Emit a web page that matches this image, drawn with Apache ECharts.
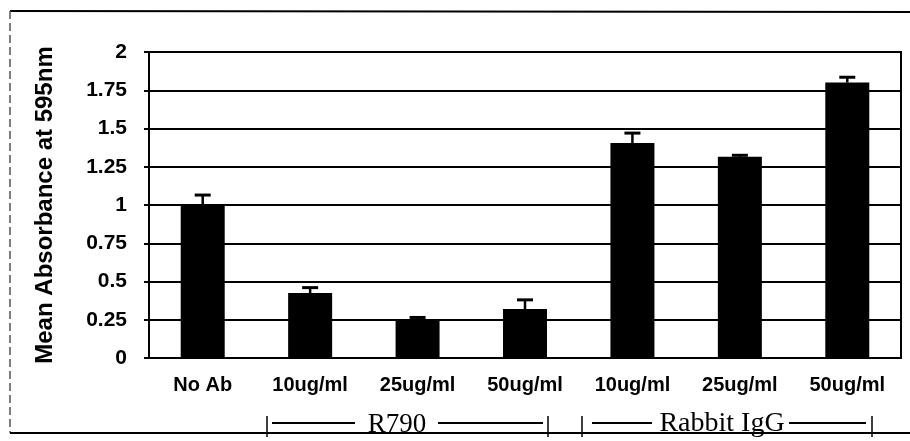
<!DOCTYPE html>
<html>
<head>
<meta charset="utf-8">
<script src="https://cdn.jsdelivr.net/npm/echarts@6/dist/echarts.min.js"></script>
<style>
  html, body { margin: 0; padding: 0; background: #fff; }
  #chart { width: 910px; height: 441px; }
</style>
</head>
<body>
<div id="chart"></div>
<script>
// 数据
var categories = ['No Ab', '10ug/ml', '25ug/ml', '50ug/ml', '10ug/ml', '25ug/ml', '50ug/ml'];
var absorbance = [1.00, 0.425, 0.255, 0.32, 1.405, 1.315, 1.80];
var errors = [0.065, 0.035, 0.01, 0.06, 0.065, 0.01, 0.035];
var yTicks = [0, 0.25, 0.5, 0.75, 1, 1.25, 1.5, 1.75, 2];

(function() {
    var myChart = echarts.init(document.getElementById('chart'));

    var errData = absorbance.map(function(v, i) {
        return [i, v, v + errors[i]];
    });

    var option = {
        backgroundColor: '#fff',
        animation: false,
        grid: {
            left: 149,
            right: 9,
            top: 52,
            bottom: 83,
            show: true,
            borderColor: '#000',
            borderWidth: 2
        },
        xAxis: {
            type: 'category',
            data: categories,
            axisTick: { show: false },
            axisLine: { lineStyle: { color: '#000', width: 2 } },
            axisLabel: {
                color: '#000',
                fontFamily: 'Liberation Sans',
                fontWeight: 'bold',
                fontSize: 20,
                margin: 17,
                interval: 0
            }
        },
        yAxis: {
            type: 'value',
            min: yTicks[0],
            max: yTicks[yTicks.length - 1],
            interval: 0.25,
            name: 'Mean Absorbance at 595nm',
            nameLocation: 'middle',
            nameGap: 92,
            nameTextStyle: {
                color: '#000',
                fontFamily: 'Liberation Sans',
                fontWeight: 'bold',
                fontSize: 24
            },
            axisLine: { show: true, lineStyle: { color: '#000', width: 2 } },
            axisTick: { show: true, length: 5, lineStyle: { color: '#000', width: 2 } },
            axisLabel: {
                color: '#000',
                fontFamily: 'Liberation Sans',
                fontWeight: 'bold',
                fontSize: 21,
                margin: 22
            },
            splitLine: { lineStyle: { color: '#000', width: 2 } }
        },
        series: [{
            type: 'bar',
            data: absorbance,
            barWidth: 44,
            itemStyle: { color: '#000' },
            z: 3
        }, {
            // 误差线
            type: 'custom',
            data: errData,
            z: 4,
            renderItem: function(params, api) {
                var base = api.coord([api.value(0), api.value(1)]);
                var top = api.coord([api.value(0), api.value(2)]);
                var hw = 8;
                return {
                    type: 'group',
                    children: [{
                        type: 'line',
                        shape: { x1: base[0], y1: base[1], x2: top[0], y2: top[1] },
                        style: { stroke: '#000', lineWidth: 2.5 }
                    }, {
                        type: 'line',
                        shape: { x1: top[0] - hw, y1: top[1], x2: top[0] + hw, y2: top[1] },
                        style: { stroke: '#000', lineWidth: 3 }
                    }]
                };
            }
        }],
        graphic: [
            // 外框
            { type: 'line', shape: { x1: 10, y1: 11, x2: 912, y2: 12 }, style: { stroke: '#000', lineWidth: 2 } },
            { type: 'line', shape: { x1: 10, y1: 11, x2: 10, y2: 433 }, style: { stroke: '#555', lineWidth: 1.5, lineDash: [8, 4] } },
            { type: 'line', shape: { x1: 10, y1: 433, x2: 912, y2: 433 }, style: { stroke: '#000', lineWidth: 2 } },
            // R790 分组
            { type: 'line', shape: { x1: 267, y1: 416, x2: 267, y2: 437 }, style: { stroke: '#000', lineWidth: 1.5 } },
            { type: 'line', shape: { x1: 272, y1: 423, x2: 355, y2: 423 }, style: { stroke: '#000', lineWidth: 2 } },
            { type: 'text', style: { x: 397, y: 438, text: 'R790', fill: '#000', font: '27px "Liberation Serif"', textAlign: 'center', textVerticalAlign: 'bottom' } },
            { type: 'line', shape: { x1: 438, y1: 423, x2: 543, y2: 423 }, style: { stroke: '#000', lineWidth: 2 } },
            { type: 'line', shape: { x1: 548, y1: 416, x2: 548, y2: 437 }, style: { stroke: '#000', lineWidth: 1.5 } },
            // Rabbit IgG 分组
            { type: 'line', shape: { x1: 582, y1: 416, x2: 582, y2: 437 }, style: { stroke: '#000', lineWidth: 1.5 } },
            { type: 'line', shape: { x1: 592, y1: 423, x2: 652, y2: 423 }, style: { stroke: '#000', lineWidth: 2 } },
            { type: 'text', style: { x: 722, y: 438, text: 'Rabbit IgG', fill: '#000', font: '28px "Liberation Serif"', textAlign: 'center', textVerticalAlign: 'bottom' } },
            { type: 'line', shape: { x1: 789, y1: 423, x2: 866, y2: 423 }, style: { stroke: '#000', lineWidth: 2 } },
            { type: 'line', shape: { x1: 872, y1: 416, x2: 872, y2: 437 }, style: { stroke: '#000', lineWidth: 1.5 } }
        ]
    };

    myChart.setOption(option);
})();
</script>
</body>
</html>
